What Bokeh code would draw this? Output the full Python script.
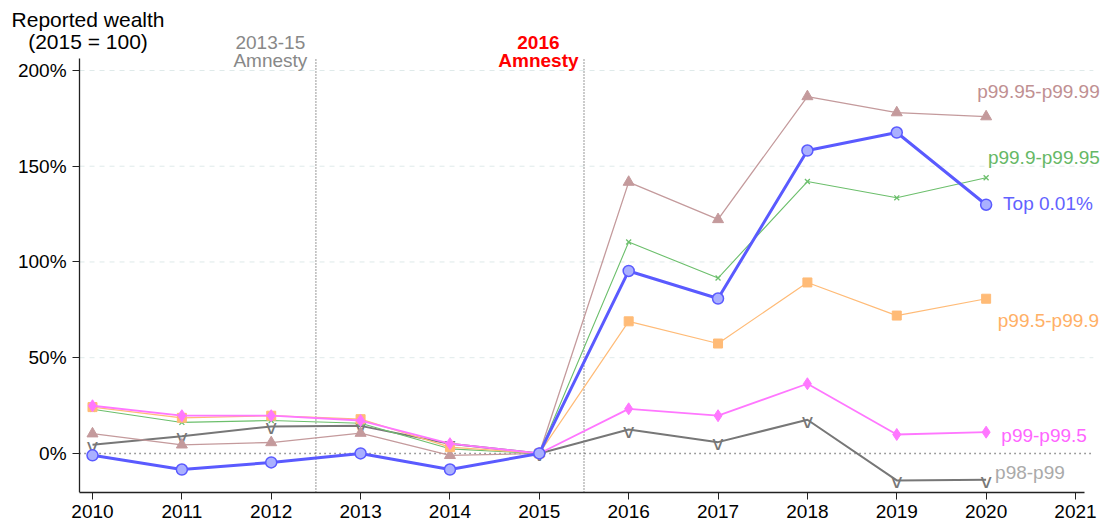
from bokeh.plotting import figure
from bokeh.models import Label, FixedTicker, PrintfTickFormatter, ColumnDataSource, Range1d
from bokeh.core.properties import value
from bokeh.embed import file_html
from bokeh.resources import INLINE

years = [2010, 2011, 2012, 2013, 2014, 2015, 2016, 2017, 2018, 2019, 2020]
top001 = [-1.0, -8.4, -4.7, 0.0, -8.4, 0.0, 95.3, 80.9, 158.2, 167.6, 129.9]
p9995 = [10.3, 4.5, 5.7, 10.6, -1.0, 0.0, 141.7, 122.2, 186.4, 178.0, 175.9]
p999 = [23.1, 16.2, 17.2, 15.8, 2.4, 0.0, 110.4, 91.6, 142.0, 133.5, 144.0]
p995 = [24.2, 18.6, 19.7, 17.9, 3.3, 0.0, 69.0, 57.4, 89.3, 72.0, 80.8]
p99 = [24.9, 19.7, 19.7, 17.2, 5.1, 0.0, 23.3, 19.7, 36.4, 9.9, 11.1]
p98 = [4.5, 9.0, 14.1, 14.4, 5.0, 0.0, 12.5, 5.9, 17.6, -14.1, -13.8]

y_ticks = [0, 50, 100, 150, 200]
x_ticks = list(range(2010, 2022))

FONT = "Liberation Sans"
X0, X1 = 2009.855, 2021.1      # axis extents
Y0, Y1 = -20.4, 206.3

p = figure(width=1106, height=523, output_backend="svg", toolbar_location=None,
           x_range=Range1d(2008.9705, 2021.347), y_range=Range1d(Y0, 236.55),
           min_border_left=0, min_border_right=0, min_border_top=0, min_border_bottom=31)
p.outline_line_color = None
p.xgrid.grid_line_color = None
p.ygrid.grid_line_color = None

for ax, ticks in ((p.xaxis[0], x_ticks), (p.yaxis[0], y_ticks)):
    ax.ticker = FixedTicker(ticks=ticks)
    ax.minor_tick_line_color = None
    ax.major_tick_out = 7
    ax.major_tick_in = 0
    ax.major_label_text_font = FONT
    ax.major_label_text_font_size = "19px"
    ax.major_label_text_color = "black"
    ax.axis_line_color = "#222222"
    ax.major_tick_line_color = "#222222"
    ax.axis_line_width = 1.3
p.yaxis[0].formatter = PrintfTickFormatter(format="%d%%")
p.yaxis[0].major_label_standoff = 6
p.yaxis[0].fixed_location = X0
p.yaxis[0].bounds = (Y0, Y1)
p.xaxis[0].bounds = (X0, X1)
p.xaxis[0].major_label_standoff = 5

# gridlines and reference lines
grid_y = y_ticks[1:]
p.segment(x0=[X0] * len(grid_y), x1=[2021.2] * len(grid_y), y0=grid_y, y1=grid_y,
          line_color="#dfeaea", line_dash="5 5", line_width=1)
p.segment(x0=[X0], x1=[2021.2], y0=[0], y1=[0], line_color="#444444", line_dash="1 4", line_width=1.5)
p.segment(x0=[2012.5, 2015.5], x1=[2012.5, 2015.5], y0=[Y0, Y0], y1=[Y1, Y1],
          line_color="#555555", line_dash="1 2", line_width=1.2)

src = ColumnDataSource(dict(x=years, top=top001, a=p9995, b=p999, c=p995, d=p99, e=p98))

# p98-p99
p.line("x", "e", source=src, line_color="#777777", line_width=2)
p.text("x", "e", text=value("v"), source=src, text_color="#777777", text_font=value("DejaVu Sans"),
       text_font_size="20px", text_align="center", text_baseline="alphabetic", y_offset=1)
# p99.95-p99.99
p.line("x", "a", source=src, line_color="#c49a9c", line_width=1.3)
p.scatter("x", "a", source=src, marker="triangle", size=11, fill_color="#c49a9c", line_color="#c49a9c")
# p99.9-p99.95
p.line("x", "b", source=src, line_color="#6cbf6c", line_width=1.1)
p.scatter("x", "b", source=src, marker="x", size=7, line_color="#6cbf6c", line_width=1.3)
# p99.5-p99.9
p.line("x", "c", source=src, line_color="#ffbb77", line_width=1.2)
p.scatter("x", "c", source=src, marker="square", size=9, fill_color="#ffbb77", line_color="#ffbb77")
# p99-p99.5
p.line("x", "d", source=src, line_color="#ff77ff", line_width=1.8)
p.scatter("x", "d", source=src, marker="diamond", size=12, fill_color="#ff77ff", line_color="#ff77ff")
# Top 0.01%
p.line("x", "top", source=src, line_color="#5a5aff", line_width=3)
p.scatter("x", "top", source=src, marker="circle", size=11, fill_color="#aab0ff", line_color="#5a5aff", line_width=1.5)

# series labels at right
series_labels = ["p99.95-p99.99", "p99.9-p99.95", "Top 0.01%", "p99.5-p99.9", "p99-p99.5", "p98-p99"]
label_colors = ["#c09092", "#66b866", "#6262ff", "#ffb066", "#ff66ff", "#aaaaaa"]
label_pos = [(2019.90, 189.0), (2020.02, 154.6), (2020.19, 130.5), (2020.13, 69.5), (2020.17, 9.4), (2020.10, -9.9)]
for t, c, (lx, ly) in zip(series_labels, label_colors, label_pos):
    p.add_layout(Label(x=lx, y=ly, text=t, text_color=c, text_font=FONT, text_font_size="19px",
                       text_align="left", text_baseline="middle"))

# titles / annotations
notes = [
    ("Reported wealth", 2009.95, 226.6, "black", "normal", "21px"),
    ("(2015 = 100)", 2009.95, 215.1, "black", "normal", "21px"),
    ("2013-15", 2011.99, 214.6, "#888888", "normal", "19px"),
    ("Amnesty", 2011.99, 205.2, "#888888", "normal", "19px"),
    ("2016", 2014.99, 214.6, "#ff0000", "bold", "19px"),
    ("Amnesty", 2014.99, 205.0, "#ff0000", "bold", "19px"),
]
for t, nx, ny, c, st, fs in notes:
    p.add_layout(Label(x=nx, y=ny, text=t, text_color=c, text_font=FONT, text_font_size=fs,
                       text_font_style=st, text_align="center", text_baseline="middle"))

open("out.html", "w").write(file_html(p, INLINE))
